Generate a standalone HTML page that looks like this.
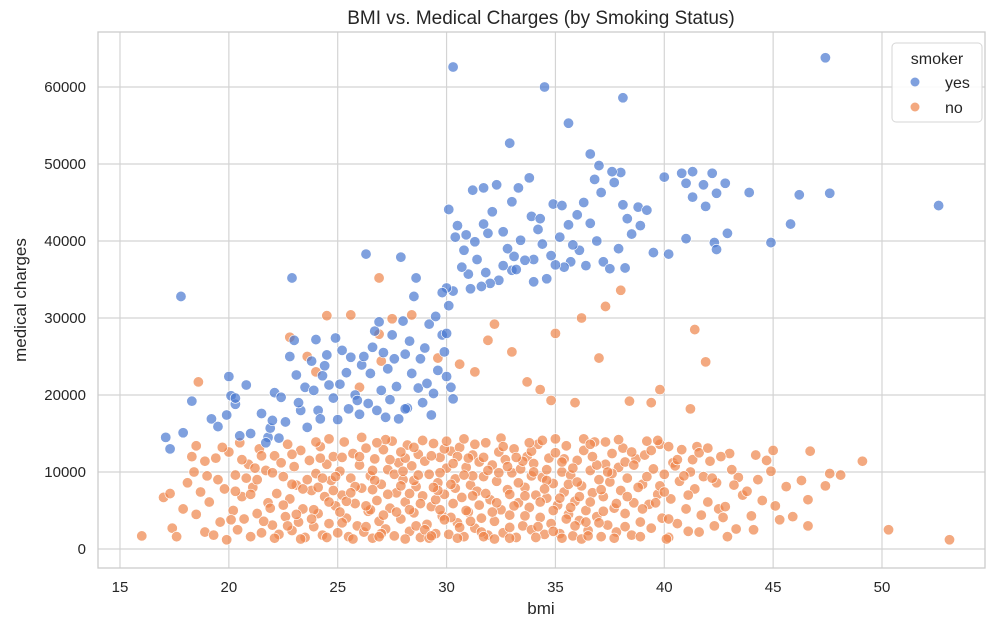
<!DOCTYPE html>
<html><head><meta charset="utf-8"><style>
body{margin:0;background:#fff;font-family:"Liberation Sans",Arial,sans-serif}
svg text{font-family:"Liberation Sans",Arial,sans-serif;fill:#262626}
</style></head><body>
<svg id="chart" width="1000" height="628" xmlns="http://www.w3.org/2000/svg">
<text x="541" y="24" font-size="19" text-anchor="middle">BMI vs. Medical Charges (by Smoking Status)</text>
<rect x="98" y="32" width="887" height="536" fill="#fff"/>
<g id="grid"></g>
<g id="ticks"></g>
<g id="pts-no"></g>
<g id="pts-yes"></g>
<rect x="98" y="32" width="887" height="536" fill="none" stroke="#cccccc" stroke-width="1.3"/>
<text x="541" y="614" font-size="17" text-anchor="middle">bmi</text>
<text transform="translate(26,300) rotate(-90)" font-size="17" text-anchor="middle">medical charges</text>
<g>
<rect x="892" y="43" width="90" height="79" rx="4" fill="#fff" fill-opacity="0.85" stroke="#d6d6d6"/>
<text x="937" y="64" font-size="16" text-anchor="middle">smoker</text>
<circle cx="915" cy="82" r="4.5" fill="#4878d0" fill-opacity="0.7"/>
<text x="945" y="88" font-size="16">yes</text>
<circle cx="915" cy="107" r="4.5" fill="#ee854a" fill-opacity="0.7"/>
<text x="945" y="113" font-size="16">no</text>
</g>
</svg>
<script>
const xTicks=[15,20,25,30,35,40,45,50];
const yTicks=[0,10000,20000,30000,40000,50000,60000];
// smokers: [bmi, charges in thousands]
const yesPts=[[17.8,32.8],[30.3,62.6],[34.5,60.0],[38.1,58.6],[47.4,63.8],[52.6,44.6],[44.9,39.8],[46.2,46.0],[47.6,46.2],[45.8,42.2],[43.9,46.3],[42.9,41.0],[42.3,39.8],[42.4,38.9],[41.0,47.5],[41.3,49.0],[40.8,48.8],[40.0,48.3],[40.2,38.3],[39.5,38.5],[41.3,45.7],[41.8,47.3],[42.2,48.8],[42.4,46.2],[42.8,47.5],[41.9,44.5],[41.0,40.3],[38.8,44.4],[38.9,42.0],[38.5,40.9],[38.3,42.9],[38.1,44.7],[38.0,48.9],[37.6,49.0],[37.0,49.8],[36.6,51.3],[36.8,48.0],[37.1,46.3],[35.6,55.3],[33.8,48.2],[33.3,46.9],[33.0,45.1],[32.9,52.7],[32.3,47.3],[31.7,46.9],[31.2,46.6],[30.1,44.1],[30.4,40.5],[30.9,40.8],[31.3,39.9],[31.7,42.2],[32.1,43.8],[32.6,41.2],[33.4,40.1],[33.9,43.2],[34.3,42.9],[34.9,44.8],[35.3,44.6],[35.6,42.1],[36.0,43.4],[36.6,42.3],[36.9,40.0],[37.2,37.3],[37.5,36.4],[37.9,39.0],[38.2,36.5],[36.1,38.8],[35.7,37.3],[35.4,36.6],[35.0,36.9],[34.8,38.1],[34.4,39.6],[34.6,35.1],[34.0,37.6],[33.6,37.5],[33.1,38.0],[33.0,36.2],[32.6,36.8],[32.4,34.9],[32.0,34.5],[31.8,35.9],[31.4,37.6],[31.0,35.7],[30.7,36.6],[30.3,33.5],[30.0,33.9],[29.8,33.3],[31.6,34.1],[33.2,36.3],[34.0,34.7],[35.2,40.5],[36.3,45.0],[37.7,47.6],[39.2,44.0],[30.5,42.0],[31.9,41.0],[35.8,39.5],[36.4,36.8],[34.2,41.5],[32.8,39.0],[30.8,38.8],[31.1,33.8],
[17.1,14.5],[17.3,13.0],[17.9,15.1],[18.3,19.2],[19.2,16.9],[19.5,15.9],[19.9,17.4],[20.0,22.4],[20.1,19.9],[20.3,18.8],[20.3,19.6],[20.5,14.7],[20.8,21.3],[21.5,17.6],[21.8,14.5],[21.9,15.7],[22.0,16.7],[22.1,20.3],[22.4,19.7],[22.8,25.0],[22.9,35.2],[23.0,27.1],[23.1,22.6],[23.3,18.0],[23.5,21.0],[23.8,24.4],[24.0,27.2],[24.1,18.0],[24.3,22.5],[24.5,25.2],[24.6,21.3],[24.8,19.6],[24.9,27.4],[25.2,25.8],[25.4,22.9],[25.6,24.9],[25.8,20.0],[26.0,17.5],[26.1,23.9],[26.3,38.3],[26.5,22.8],[26.7,28.3],[26.9,29.5],[27.1,25.5],[27.4,19.4],[27.6,24.7],[27.7,21.1],[27.9,37.9],[28.0,29.6],[28.2,18.3],[28.4,22.8],[28.5,32.8],[28.6,35.2],[28.8,24.7],[29.0,26.1],[29.2,29.2],[29.4,20.2],[29.6,23.2],[29.8,27.8],[29.9,25.6],[30.0,22.4],[30.1,31.6],[30.2,21.0],[28.1,18.2],[27.2,17.1],[26.4,18.9],[25.1,21.4],[23.9,20.6],[22.6,16.5],[24.2,16.9],[25.9,19.3],[27.0,20.6],[28.7,20.9],[29.3,17.4],[21.0,15.0],[25.0,16.8],[26.6,26.2],[27.3,23.4],[28.3,27.0],[29.5,30.2],[24.4,23.8],[23.2,19.0],[26.8,18.0],[28.9,19.0],[30.0,28.0],[29.1,21.5],[27.8,16.9],[25.5,18.2],[23.6,15.8],[22.3,14.4],[21.7,13.8],[30.3,19.5],[26.2,25.0],[27.5,27.8],[28.1,25.3]];
// non-smokers: [bmi, charges in thousands]
const noPts=[[16.0,1.7],[17.0,6.7],[17.3,7.2],[18.6,21.7],[26.9,35.2],[30.6,24.0],[32.2,29.2],[37.3,31.5],[38.0,33.6],[35.0,28.0],[41.4,28.5],[41.9,24.3],[50.3,2.5],[53.1,1.2],[49.1,11.4],[47.6,9.8],[46.7,12.7],[46.3,8.9],[45.9,4.2],[46.6,3.0],[46.6,6.4],[24.5,30.3],[25.6,30.4],[26.9,27.9],[27.5,29.9],[28.4,30.4],[29.6,24.8],[31.3,23.0],[33.0,25.6],[35.9,19.0],[38.4,19.2],[39.8,20.7],[41.2,18.2],[22.8,27.5],[23.6,25.0],[24.0,23.0],[26.0,21.0],[27.0,24.4],[31.9,27.1],[33.7,21.7],[34.8,19.3],[37.0,24.8],[39.4,19.0],[36.2,30.0],[34.3,20.7],[48.1,9.6],[47.4,8.2],[44.7,11.5],[45.1,5.6],[44.0,4.3],[43.4,9.3],[43.0,12.4],[43.6,7.0],[42.5,5.2],[42.9,1.6],[44.3,9.0],[45.6,8.1],[17.4,2.7],[17.6,1.6],[17.9,5.2],[18.1,8.6],[18.3,12.0],[18.4,10.0],[18.5,4.5],[18.7,7.4],[18.9,2.2],[19.0,9.5],[19.1,6.1],[19.3,1.8],[19.4,11.8],[19.6,3.5],[19.8,7.8],[19.9,1.2],[20.0,12.6],[20.2,5.0],[20.3,9.6],[20.4,2.5],[20.6,6.8],[20.7,3.9],[20.9,11.0],[21.0,1.6],[21.1,8.0],[21.3,4.6],[21.4,13.0],[21.5,2.1],[21.7,10.2],[21.8,6.0],[22.0,3.1],[22.1,12.1],[22.2,7.2],[22.3,1.9],[22.5,9.4],[22.6,4.2],[22.7,13.6],[22.8,6.5],[22.9,2.4],[23.0,10.7],[23.1,8.3],[23.2,3.5],[23.3,12.8],[23.4,5.2],[23.5,1.5],[23.7,11.5],[23.8,7.6],[23.9,2.9],[24.0,9.8],[24.1,4.6],[24.2,13.3],[24.3,1.8],[24.4,6.8],[24.5,11.0],[24.6,3.3],[24.7,8.9],[24.8,12.0],[24.9,5.6],[25.0,2.1],[25.1,10.1],[25.2,7.0],[25.3,13.9],[25.4,4.0],[25.5,1.6],[25.6,9.2],[25.7,12.4],[25.8,5.9],[25.9,3.0],[26.0,10.9],[26.1,7.9],[26.2,2.2],[26.3,13.1],[26.4,4.9],[26.5,9.5],[26.6,1.4],[26.7,11.7],[26.8,6.3],[26.9,3.6],[27.0,8.4],[27.1,12.9],[27.2,2.6],[27.3,10.3],[27.4,5.3],[27.5,14.0],[27.6,1.7],[27.7,7.3],[27.8,11.2],[27.9,3.9],[28.0,9.0],[28.1,6.1],[28.2,13.5],[28.3,2.3],[28.4,10.8],[28.5,4.7],[28.6,8.1],[28.7,12.3],[28.8,1.5],[28.9,6.9],[29.0,11.4],[29.1,3.2],[29.2,9.7],[29.3,5.5],[29.4,13.7],[29.5,2.0],[29.6,8.6],[29.7,11.9],[29.8,4.3],[29.9,7.1],[30.0,10.5],[30.1,1.9],[30.2,12.7],[30.3,5.9],[30.4,9.1],[30.5,3.4],[30.6,13.2],[30.7,6.7],[30.8,1.6],[30.9,10.6],[31.0,4.8],[31.1,8.3],[31.2,12.2],[31.3,2.7],[31.4,7.5],[31.5,11.3],[31.6,4.0],[31.7,9.4],[31.8,13.8],[31.9,1.8],[32.0,6.4],[32.1,10.9],[32.2,3.6],[32.3,8.8],[32.4,12.6],[32.5,5.1],[32.6,2.1],[32.7,11.6],[32.8,7.7],[32.9,4.4],[33.0,9.9],[33.1,13.0],[33.2,1.5],[33.3,6.0],[33.4,10.4],[33.5,3.0],[33.6,8.0],[33.7,12.0],[33.8,5.4],[33.9,2.5],[34.0,11.1],[34.1,7.0],[34.2,13.6],[34.3,4.1],[34.4,9.3],[34.5,1.9],[34.6,6.6],[34.7,11.8],[34.8,3.3],[34.9,8.5],[35.0,12.5],[35.1,5.7],[35.2,2.0],[35.3,10.0],[35.4,7.4],[35.5,13.4],[35.6,4.5],[35.7,9.6],[35.8,1.7],[35.9,6.2],[36.0,11.5],[36.1,3.7],[36.2,8.2],[36.3,12.8],[36.4,5.0],[36.5,2.4],[36.6,10.2],[36.7,7.3],[36.8,13.9],[36.9,4.2],[37.0,9.0],[37.1,1.6],[37.2,6.8],[37.3,11.0],[37.4,3.1],[37.5,8.7],[37.6,12.4],[37.7,5.3],[37.8,2.2],[37.9,10.6],[38.0,7.6],[38.1,13.1],[38.2,4.6],[38.3,9.2],[38.5,1.8],[38.6,6.0],[38.7,11.7],[38.9,3.5],[39.0,8.4],[39.1,12.2],[39.3,5.8],[39.4,2.7],[39.5,10.4],[39.7,7.1],[39.8,13.6],[39.9,4.0],[40.0,9.7],[40.2,1.5],[40.3,6.5],[40.4,11.2],[40.6,3.3],[40.7,8.8],[40.8,12.9],[41.0,5.2],[41.1,2.3],[41.2,10.0],[41.4,7.8],[41.5,13.3],[41.7,4.4],[41.8,9.4],[42.0,6.1],[42.1,11.4],[42.3,3.0],[42.4,8.6],[42.6,12.0],[42.8,5.5],[43.1,10.3],[43.3,2.6],[43.8,7.5],[44.2,12.2],[44.5,6.3],[44.9,10.1],[45.3,3.8],[20.5,13.8],[21.2,10.5],[22.4,11.2],[23.6,9.0],[24.6,14.3],[25.2,11.9],[26.1,14.5],[27.2,14.2],[28.1,11.8],[28.9,14.1],[29.9,13.0],[30.8,14.3],[31.7,11.9],[32.5,14.4],[33.5,11.4],[34.4,14.1],[35.4,11.7],[36.3,14.3],[37.3,13.9],[38.2,11.3],[39.2,14.0],[40.2,13.3],[41.3,11.6],[25.8,8.1],[26.5,5.1],[27.6,9.7],[28.6,3.0],[29.5,6.4],[30.4,7.9],[31.5,5.7],[32.4,9.9],[33.6,6.9],[34.6,10.3],[35.6,8.4],[36.6,6.1],[37.6,9.8],[26.3,2.9],[27.1,4.4],[28.3,7.2],[29.2,1.4],[30.2,4.1],[31.2,9.5],[32.2,1.3],[33.2,11.9],[34.2,2.9],[35.2,6.6],[36.2,1.3],[37.2,4.9],[24.8,7.6],[23.9,5.1],[22.9,8.4],[21.9,5.3],[20.8,9.2],[19.7,13.2],[18.9,11.4],[24.3,9.2],[25.4,6.2],[27.9,12.6],[29.7,9.9],[31.0,11.8],[32.9,7.1],[34.9,5.0],[36.9,10.9],[38.8,8.0],[40.5,10.8],[26.6,10.2],[28.5,8.9],[30.6,2.8],[33.9,9.5],[35.9,3.0],[39.6,6.0],[41.6,2.2],
[20.1,3.8],[20.6,11.6],[21.0,7.1],[21.6,3.6],[22.0,9.9],[22.5,5.7],[22.9,12.3],[23.4,7.8],[23.8,3.9],[24.2,11.8],[24.6,6.1],[24.9,9.4],[25.2,3.4],[25.6,7.3],[26.0,12.0],[26.3,5.6],[26.7,8.9],[27.0,2.0],[27.4,11.6],[27.7,4.8],[28.0,10.1],[28.3,5.1],[28.7,9.6],[29.0,2.5],[29.3,12.1],[29.6,7.6],[29.9,3.8],[30.2,8.4],[30.5,12.0],[30.9,5.0],[31.2,6.9],[31.6,2.2],[31.9,10.2],[32.3,6.0],[32.6,13.3],[32.9,2.8],[33.3,8.6],[33.6,4.3],[33.9,12.7],[34.3,6.1],[34.6,8.9],[34.9,2.3],[35.3,11.3],[35.7,5.4],[36.0,8.7],[36.4,3.5],[36.7,12.0],[37.1,7.7],[37.4,10.0],[37.8,5.9],[38.2,2.9],[38.6,10.9],[39.0,5.2],[39.4,12.8],[39.8,8.2],[40.2,3.9],[40.6,11.6],[41.1,7.0],[41.6,12.5],[42.2,9.2],[42.7,4.1],[22.1,1.4],[23.3,1.3],[24.5,1.5],[25.7,1.3],[26.9,1.6],[28.1,1.3],[29.3,1.7],[30.5,1.4],[31.7,1.6],[32.9,1.4],[34.1,1.5],[35.3,1.4],[36.5,1.7],[37.7,1.4],[38.9,1.6],[40.1,1.3],[24.0,13.9],[26.8,13.8],[28.5,13.2],[30.0,14.0],[31.3,13.6],[33.8,13.8],[35.0,14.3],[36.6,13.6],[37.9,14.2],[39.7,14.1],[21.5,12.1],[19.5,9.0],[20.3,7.5],[18.5,13.4],[21.3,9.0],[23.1,4.5],[25.1,4.8],[26.6,7.7],[27.3,7.1],[28.8,5.9],[29.7,5.1],[31.1,3.6],[32.1,4.8],[32.8,10.7],[34.5,7.8],[35.8,10.5],[37.0,3.4],[38.3,6.8],[39.2,9.4],[40.9,9.5],[27.9,8.2],[30.3,11.1],[33.1,5.6],[36.1,6.8],[24.1,8.0],[22.7,3.0],[29.4,8.0],[30.8,9.6],[31.8,7.2],[34.0,10.0],[35.5,3.9],[38.5,12.6],[40.0,7.4],[42.0,13.1],[43.2,8.3],[44.1,2.5],[45.0,12.8]];
const X0=15,X1=50,PX0=120,PX1=882, Y0=0,Y1=60000,PY0=549,PY1=87;
const sx=v=>PX0+(v-X0)*(PX1-PX0)/(X1-X0);
const sy=v=>PY0+(v-Y0)*(PY1-PY0)/(Y1-Y0);
const NS='http://www.w3.org/2000/svg';
const grid=document.getElementById('grid'), ticks=document.getElementById('ticks');
xTicks.forEach(t=>{
  const l=document.createElementNS(NS,'line');
  
  
  l.setAttribute('x1',sx(t));l.setAttribute('x2',sx(t));l.setAttribute('y1',32);l.setAttribute('y2',568);
  l.setAttribute('stroke','#d4d4d4');l.setAttribute('stroke-width','1.2');grid.appendChild(l);
  const tx=document.createElementNS(NS,'text');
  
  
  tx.setAttribute('x',sx(t));tx.setAttribute('y',592);tx.setAttribute('font-size','15');tx.setAttribute('text-anchor','middle');
  tx.textContent=t;ticks.appendChild(tx);
});
yTicks.forEach(t=>{
  const l=document.createElementNS(NS,'line');
  
  
  l.setAttribute('x1',98);l.setAttribute('x2',985);l.setAttribute('y1',sy(t));l.setAttribute('y2',sy(t));
  l.setAttribute('stroke','#d4d4d4');l.setAttribute('stroke-width','1.2');grid.appendChild(l);
  const tx=document.createElementNS(NS,'text');
  
  
  tx.setAttribute('x',86);tx.setAttribute('y',sy(t)+5);tx.setAttribute('font-size','15');tx.setAttribute('text-anchor','end');
  tx.textContent=t;ticks.appendChild(tx);
});
function draw(pts,gid,color,name){
  const g=document.getElementById(gid);
  pts.forEach(p=>{
    const c=document.createElementNS(NS,'circle');
    
    
    c.setAttribute('cx',sx(p[0]));c.setAttribute('cy',sy(p[1]*1000));c.setAttribute('r',5.2);
    c.setAttribute('fill',color);c.setAttribute('fill-opacity','0.7');c.setAttribute('stroke','#fff');c.setAttribute('stroke-width','0.6');
    g.appendChild(c);
  });
}
draw(noPts,'pts-no','#ee854a','point-no');
draw(yesPts,'pts-yes','#4878d0','point-yes');
</script>
</body></html>
